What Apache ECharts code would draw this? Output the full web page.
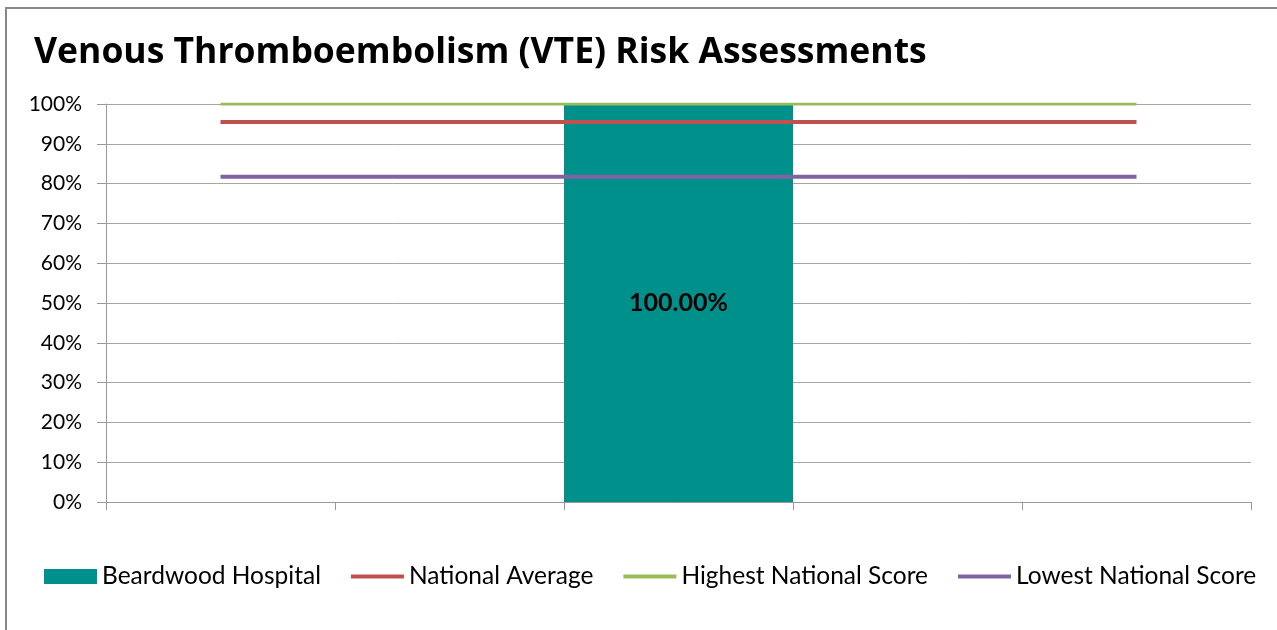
<!DOCTYPE html>
<html>
<head>
<meta charset="utf-8">
<script src="https://cdn.jsdelivr.net/npm/echarts@6/dist/echarts.min.js"></script>
<style>
  html, body { margin: 0; padding: 0; background: #fff; }
  #chart { width: 1277px; height: 630px; }
</style>
</head>
<body>
<div id="chart"></div>
<script>
// 数据
var categories = ['', '', '', '', ''];
var hospitalValues = [null, null, 100, null, null];
var nationalAverage = [95.5, 95.5, 95.5, 95.5, 95.5];
var highestScore = [100, 100, 100, 100, 100];
var lowestScore = [81.7, 81.7, 81.7, 81.7, 81.7];
var yTicks = [0, 10, 20, 30, 40, 50, 60, 70, 80, 90, 100];

var font = 'Lato, "Open Sans", sans-serif';
var chart = echarts.init(document.getElementById('chart'));

chart.setOption({
    animation: false,
    title: {
        text: 'Venous Thromboembolism (VTE) Risk Assessments',
        left: 29,
        top: 30,
        textStyle: { fontFamily: '"Open Sans", sans-serif', fontSize: 35.5, fontWeight: 'bold', color: '#000' }
    },
    graphic: [{
        type: 'rect',
        shape: { x: 6, y: 8, width: 1400, height: 800 },
        style: { fill: 'none', stroke: '#888', lineWidth: 2 },
        silent: true
    }],
    legend: {
        left: 39,
        top: 559,
        itemWidth: 53,
        itemHeight: 15,
        itemGap: 28,
        textStyle: { fontFamily: font, fontSize: 24.5, color: '#000' },
        data: [
            { name: 'Beardwood Hospital', icon: 'rect' },
            { name: 'National Average', itemStyle: { opacity: 0 }, lineStyle: { width: 4 } },
            { name: 'Highest National Score', itemStyle: { opacity: 0 }, lineStyle: { width: 4 } },
            { name: 'Lowest National Score', itemStyle: { opacity: 0 }, lineStyle: { width: 4 } }
        ]
    },
    grid: { left: 106, right: 26, top: 104, bottom: 128 },
    xAxis: {
        type: 'category',
        data: categories,
        axisLine: { lineStyle: { color: '#999', width: 1 } },
        axisTick: { show: true, length: 8, lineStyle: { color: '#999' } },
        axisLabel: { show: false }
    },
    yAxis: {
        type: 'value',
        min: yTicks[0],
        max: yTicks[yTicks.length - 1],
        interval: 10,
        axisLine: { show: true, lineStyle: { color: '#999', width: 1 } },
        axisTick: { show: true, length: 9, lineStyle: { color: '#999' } },
        axisLabel: {
            formatter: '{value}%',
            margin: 24,
            fontFamily: font,
            fontSize: 21,
            color: '#000'
        },
        splitLine: { lineStyle: { color: '#a6a6a6', width: 1 } }
    },
    series: [
        {
            name: 'Beardwood Hospital',
            type: 'bar',
            data: hospitalValues,
            barWidth: '100%',
            itemStyle: { color: '#00908b' },
            label: {
                show: true,
                position: 'inside',
                formatter: function (p) { return p.value.toFixed(2) + '%'; },
                fontFamily: font,
                fontSize: 25,
                fontWeight: 'bold',
                color: '#000'
            }
        },
        {
            name: 'National Average',
            type: 'line',
            data: nationalAverage,
            symbol: 'none',
            lineStyle: { color: '#c0504d', width: 4 },
            itemStyle: { color: '#c0504d' }
        },
        {
            name: 'Highest National Score',
            type: 'line',
            data: highestScore,
            symbol: 'none',
            lineStyle: { color: '#9bbb59', width: 3 },
            itemStyle: { color: '#9bbb59' }
        },
        {
            name: 'Lowest National Score',
            type: 'line',
            data: lowestScore,
            symbol: 'none',
            lineStyle: { color: '#8064a2', width: 4 },
            itemStyle: { color: '#8064a2' }
        }
    ]
});
</script>
</body>
</html>
